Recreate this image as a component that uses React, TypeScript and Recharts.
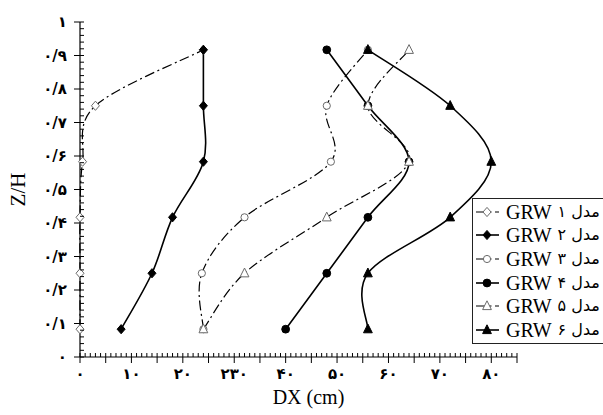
import React from 'react';
import { LineChart, Line, XAxis, YAxis, Legend } from 'recharts';

// relative height of each measuring station
const levels = [0.083, 0.25, 0.417, 0.583, 0.75, 0.917];

// DX (cm) at each level, bottom to top
const grw1 = [0, 0, 0, 0.5, 3, 24];
const grw2 = [8, 14, 18, 24, 24, 24];
const grw3 = [24, 23.7, 32, 48.8, 48, 56];
const grw4 = [40, 48, 56, 64, 56, 48];
const grw5 = [24, 32, 48, 64, 56, 64];
const grw6 = [56, 56, 72, 80, 72, 56];

// legend names: model code + persian label
const seriesCodes = ['GRW', 'GRW', 'GRW', 'GRW', 'GRW', 'GRW'];
const seriesLabels = ['۱ مدل', '۲ مدل', '۳ مدل', '۴ مدل', '۵ مدل', '۶ مدل'];

const xTickLabels = ['۰', '۱۰', '۲۰', '۲۳۰', '۴۰', '۵۰', '۶۰', '۷۰', '۸۰'];
const yTickLabels = ['۰', '۰/۱', '۰/۲', '۰/۳', '۰/۴', '۰/۵', '۰/۶', '۰/۷', '۰/۸', '۰/۹', '۱'];

const rows = levels.map((z, i) => ({
  z,
  s1: grw1[i],
  s2: grw2[i],
  s3: grw3[i],
  s4: grw4[i],
  s5: grw5[i],
  s6: grw6[i],
}));

// minor ticks every 1 cm / every 0.02 of Z/H
const xTicks = Array.from({ length: 86 }, (_, i) => i);
const yTicks = Array.from({ length: 51 }, (_, i) => i / 50);

type Shape = 'diamond' | 'circle' | 'triangle';

const SERIES: { key: string; shape: Shape; open: boolean }[] = [
  { key: 's1', shape: 'diamond', open: true },
  { key: 's2', shape: 'diamond', open: false },
  { key: 's3', shape: 'circle', open: true },
  { key: 's4', shape: 'circle', open: false },
  { key: 's5', shape: 'triangle', open: true },
  { key: 's6', shape: 'triangle', open: false },
];

const DASH_DOT = '10 3.5 2 3.5';
const SERIF = '"Liberation Serif", "DejaVu Serif", serif';
const TICK_FONT = '"DejaVu Sans", sans-serif';

// Excel-like smoothing: cardinal bezier through every point
function smoothCurve(context: any) {
  let pts: number[][] = [];
  return {
    areaStart() {},
    areaEnd() {},
    lineStart() {
      pts = [];
    },
    point(x: number, y: number) {
      pts.push([+x, +y]);
    },
    lineEnd() {
      if (!pts.length) return;
      context.moveTo(pts[0][0], pts[0][1]);
      for (let i = 0; i < pts.length - 1; i++) {
        const p0 = pts[i - 1] || pts[i];
        const p1 = pts[i];
        const p2 = pts[i + 1];
        const p3 = pts[i + 2] || p2;
        context.bezierCurveTo(
          p1[0] + (p2[0] - p0[0]) / 6,
          p1[1] + (p2[1] - p0[1]) / 6,
          p2[0] - (p3[0] - p1[0]) / 6,
          p2[1] - (p3[1] - p1[1]) / 6,
          p2[0],
          p2[1]
        );
      }
    },
  };
}

function Marker({ cx, cy, shape, open }: { cx: number; cy: number; shape: Shape; open: boolean }) {
  const fill = open ? '#fff' : '#000';
  const stroke = open ? '#6a6a6a' : '#000';
  if (shape === 'circle') {
    return <circle cx={cx} cy={cy} r={open ? 3.6 : 3.9} fill={fill} stroke={stroke} strokeWidth={1} />;
  }
  const d =
    shape === 'diamond'
      ? `M${cx},${cy - 4.6}L${cx + 4},${cy}L${cx},${cy + 4.6}L${cx - 4},${cy}Z`
      : `M${cx},${cy - 5.2}L${cx + 4.4},${cy + 3.6}L${cx - 4.4},${cy + 3.6}Z`;
  return <path d={d} fill={fill} stroke={stroke} strokeWidth={1} />;
}

function XTick({ x, y, payload }: any) {
  const v = Math.round(payload.value);
  const major = v % 5 === 0;
  const label = v % 10 === 0 ? xTickLabels[v / 10] : null;
  return (
    <g>
      <line x1={x} x2={x} y1={y - 4} y2={major ? y + 6 : y} stroke="#000" strokeWidth={1} />
      {label && (
        <text x={x} y={y + 22} textAnchor="middle" fontSize={15} fontWeight="bold" fontFamily={TICK_FONT} fill="#000">
          {label}
        </text>
      )}
    </g>
  );
}

function YTick({ x, y, payload }: any) {
  const step = Math.round(payload.value * 50);
  const major = step % 5 === 0;
  return (
    <g>
      <line x1={major ? x - 6 : x} x2={x + 4} y1={y} y2={y} stroke="#000" strokeWidth={1} />
      {major && (
        <text x={x - 13} y={y + 5} textAnchor="end" fontSize={15} fontWeight="bold" fontFamily={TICK_FONT} fill="#000">
          {yTickLabels[step / 5]}
        </text>
      )}
    </g>
  );
}

function LegendBox() {
  return (
    <div
      style={{
        width: 140,
        height: 146,
        border: '1px solid #222',
        background: '#fff',
        boxSizing: 'border-box',
        paddingTop: 1,
      }}
    >
      {SERIES.map((s, i) => (
        <div key={s.key} style={{ display: 'flex', alignItems: 'center', height: 23.6, whiteSpace: 'nowrap' }}>
          <svg width={30} height={14} style={{ display: 'block', flex: 'none' }}>
            <line
              x1={3}
              x2={26}
              y1={7}
              y2={7}
              stroke="#000"
              strokeWidth={s.open ? 1.2 : 1.6}
              strokeDasharray={s.open ? DASH_DOT : undefined}
            />
            <Marker cx={14} cy={7} shape={s.shape} open={s.open} />
          </svg>
          <span style={{ fontFamily: 'Liberation Serif', fontSize: 20, lineHeight: '20px', color: '#000', marginLeft: 3 }}>
            {seriesCodes[i]}
          </span>
          <span style={{ fontFamily: TICK_FONT, fontSize: 16, lineHeight: '20px', color: '#000', marginLeft: 6 }}>
            {seriesLabels[i]}
          </span>
        </div>
      ))}
    </div>
  );
}

export default function App() {
  return (
    <div style={{ position: 'absolute', left: 0, top: 0, width: 603, height: 415, overflow: 'hidden', background: '#fff' }}>
      <LineChart
        width={603}
        height={415}
        layout="vertical"
        data={rows}
        margin={{ top: 22, right: 86, bottom: 20, left: 20 }}
      >
        <XAxis
          type="number"
          domain={[0, 85]}
          ticks={xTicks}
          interval={0}
          tick={<XTick />}
          tickLine={false}
          tickSize={0}
          tickMargin={0}
          axisLine={{ stroke: '#000', strokeWidth: 1.2 }}
          height={38}
          label={{
            value: 'DX (cm)',
            position: 'bottom',
            offset: -5,
            dx: 10,
            fontSize: 20,
            fontFamily: SERIF,
            fill: '#000',
          }}
        />
        <YAxis
          type="number"
          dataKey="z"
          domain={[0, 1]}
          reversed
          ticks={yTicks}
          interval={0}
          tick={<YTick />}
          tickLine={false}
          tickSize={0}
          tickMargin={0}
          axisLine={{ stroke: '#000', strokeWidth: 1.2 }}
          width={60}
          label={({ viewBox }: any) => {
            const cx = viewBox.x - 2;
            const cy = viewBox.y + viewBox.height / 2;
            return (
              <text
                x={cx}
                y={cy}
                transform={`rotate(-90, ${cx}, ${cy})`}
                textAnchor="middle"
                dominantBaseline="central"
                fontSize={21}
                fontFamily={SERIF}
                fill="#000"
              >
                Z/H
              </text>
            );
          }}
        />
        {SERIES.map((s, i) => (
          <Line
            key={s.key}
            dataKey={s.key}
            name={`${seriesCodes[i]} ${seriesLabels[i]}`}
            type={smoothCurve as any}
            stroke="#000"
            strokeWidth={s.open ? 1.2 : 1.6}
            strokeDasharray={s.open ? DASH_DOT : undefined}
            dot={(p: any) => <Marker key={`${s.key}-${p.index}`} cx={p.cx} cy={p.cy} shape={s.shape} open={s.open} />}
            activeDot={false}
            isAnimationActive={false}
          />
        ))}
        <Legend
          layout="vertical"
          align="center"
          verticalAlign="middle"
          content={() => <LegendBox />}
          wrapperStyle={{ left: 472, top: 198, width: 140, height: 146 }}
        />
      </LineChart>
    </div>
  );
}
